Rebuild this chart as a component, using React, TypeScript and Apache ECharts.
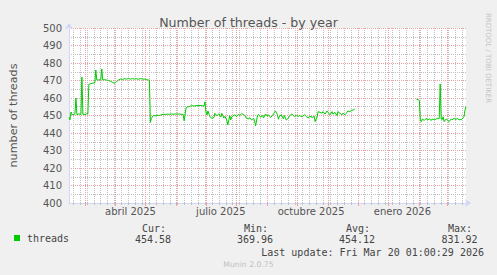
import React, { useEffect, useRef } from 'react';
import * as echarts from 'echarts';

const chartTitle = 'Number of threads - by year';
const yAxisName = 'number of threads';
const seriesName = 'threads';
const yMin = 400;
const yMax = 500;
const yMajorStep = 10;
const yMinorStep = 5;
const monthLabels = ['abril 2025', 'julio 2025', 'octubre 2025', 'enero 2026'];
const monthLabelDates = ['2025-04-16', '2025-07-16', '2025-10-15', '2026-01-15'];
const rangeStartDate = '2025-02-13T01:00:00Z';
const rangeDays = 400;
const statLabels = ['Cur:', 'Min:', 'Avg:', 'Max:'];
const statValues = ['454.58', '369.96', '454.12', '831.92'];
const lastUpdate = 'Last update: Fri Mar 20 01:00:29 2026';
const footer = 'Munin 2.0.75';
const watermark = 'RRDTOOL / TOBI OETIKER';

// days since range start
const days = [
  0, 1, 2, 3, 5, 6, 7, 8, 10, 12, 13, 14, 16, 18, 19, 20, 22, 24, 26, 27,
  28, 30, 32, 33, 34, 36, 38, 40, 42, 44, 46, 48, 50, 52, 54, 56, 58, 60, 62, 64,
  66, 68, 70, 72, 74, 76, 78, 80, 81, 82, 83, 85, 87, 89, 91, 93, 95, 97, 99, 101,
  103, 105, 107, 109, 111, 113, 115, 116, 118, 120, 122, 124, 126, 128, 130, 132, 134, 136, 137, 138,
  139, 140, 142, 144, 146, 147, 149, 151, 153, 154, 156, 157, 159, 160, 162, 163, 164, 166, 167, 169,
  171, 172, 174, 176, 177, 179, 181, 182, 184, 186, 187, 188, 190, 191, 193, 195, 196, 198, 200, 201,
  203, 205, 206, 208, 210, 211, 212, 214, 216, 217, 219, 221, 222, 224, 226, 227, 229, 231, 232, 234,
  235, 237, 239, 241, 242, 244, 245, 247, 248, 250, 251, 253, 255, 256, 258, 260, 261, 263, 265, 266,
  268, 270, 271, 273, 275, 276, 278, 280, 281, 283, 285, 286, 288, 320,
  350, 352, 353, 354, 355, 356, 358, 360, 361, 363, 365, 366, 368, 370, 371, 373, 374, 375, 376, 377,
  378, 380, 381, 383, 385, 386, 388, 390, 391, 393, 395, 396, 398, 399, 400,
];

const threads = [
  449, 447.5, 452, 450.5, 450.5, 451, 460, 450.5, 451, 450.5, 472, 450.7, 450.5, 451, 451, 467.8, 468.2, 468.5, 468.6, 476,
  470.3, 470.3, 470.5, 476.6, 470.3, 470.5, 470.2, 470, 469.5, 468.8, 468.5, 469.5, 470.3, 470.9, 470.4, 471.1, 470.8, 471.2, 470.8, 471.1,
  470.8, 471, 470.7, 471.1, 470.8, 470.8, 470.5, 470.3, 470.3, 446, 448.4, 450, 449.8, 450.2, 450, 450.4, 450.7, 450.6, 450.8, 450.7,
  450.9, 450.7, 450.9, 450.8, 450.9, 450.7, 450.6, 447, 454.5, 455, 455.3, 455.6, 455.4, 455.7, 455.6, 455.8, 455.6, 455.4, 457.8, 452,
  450.3, 452.6, 449.3, 448.4, 448.8, 451.3, 449.8, 451, 449.2, 451.2, 448.6, 449.5, 447.4, 444.6, 449.9, 447.5, 449.3, 450, 450.2, 449.5,
  450.7, 450, 451, 450.5, 450, 448.4, 448, 448.8, 447.4, 448.4, 447, 444, 450.2, 450.6, 449, 450.2, 448.6, 450.9, 449.5, 450.4,
  448.8, 450, 451, 452.6, 450.4, 447.9, 449.6, 450.4, 448.2, 450, 447.4, 448.5, 449.5, 450.8, 450.2, 449.5, 450, 449.5, 450, 449.5,
  449.2, 450.5, 449.5, 448.6, 449.2, 449.6, 448.6, 449.6, 446.5, 449.2, 452.2, 451.8, 451.3, 452.2, 450.8, 452.6, 451.8, 450.4, 452.2, 450.8,
  451.8, 449.9, 452.2, 451.3, 450.4, 451.3, 450.4, 451.8, 452.6, 452.2, 453.1, 453, 453.7, null,
  459.3, 459, 458.5, 447.4, 446.5, 448, 447.2, 448.4, 447.5, 448, 447.2, 448, 447.6, 448, 448.2, 448.2, 468, 448, 447.6, 449.3,
  446.5, 448, 447.6, 446.5, 448, 447.6, 448.4, 447.6, 448.4, 447.6, 447.6, 448, 449.3, 453.1, 455,
];

const DAY_MS = 86400000;
const startMs = Date.parse(rangeStartDate);
const dayOf = (iso: string) => (Date.parse(iso + 'T00:00:00Z') - startMs) / DAY_MS;

const monthStarts: number[] = [];
for (let m = 2; m <= 14; m++) {
  const d = Date.UTC(2025, m, 1);
  monthStarts.push((d - startMs) / DAY_MS);
}
const weekStarts: number[] = [];
for (let d = dayOf('2025-02-17'); d < rangeDays; d += 7) weekStarts.push(d);
const labelDays = monthLabelDates.map(dayOf);

const FONT = 'DejaVu Sans, sans-serif';
const MONO = 'DejaVu Sans Mono, monospace';
const TEXT = '#555555';
const MINOR = '#c0c0c0';
const MAJOR = '#f0a0a0';
const AXIS = '#cfd6f8';

export default function App() {
  const ref = useRef<HTMLDivElement>(null);
  useEffect(() => {
    if (!ref.current) return;
    const chart = echarts.init(ref.current, undefined, { renderer: 'svg' });
    const statLabelRights = [166, 268, 370, 472];
    const statValueRights = [171, 273, 375, 477.5];
    const graphics: any[] = [];
    statLabels.forEach((t, i) => {
      graphics.push({
        type: 'text', x: statLabelRights[i], y: 228,
        style: { text: t, font: `10px ${MONO}`, fill: '#444', textAlign: 'right', textVerticalAlign: 'middle' },
      });
      graphics.push({
        type: 'text', x: statValueRights[i], y: 239.5,
        style: { text: statValues[i], font: `10px ${MONO}`, fill: '#444', textAlign: 'right', textVerticalAlign: 'middle' },
      });
    });
    graphics.push({
      type: 'text', x: 484, y: 252,
      style: { text: lastUpdate, font: `10px ${MONO}`, fill: '#444', textAlign: 'right', textVerticalAlign: 'middle' },
    });
    graphics.push({
      type: 'text', x: 248.5, y: 264.5,
      style: { text: footer, font: `7.7px ${FONT}`, fill: '#c0c0c0', textAlign: 'center', textVerticalAlign: 'middle' },
    });
    graphics.push({
      type: 'text', x: 488, y: 58, rotation: -Math.PI / 2,
      style: { text: watermark, font: `7px ${FONT}`, fill: '#c4c4c4', textAlign: 'center', textVerticalAlign: 'middle' },
    });

    const data = days.map((d, i) => [d, threads[i]]);
    const hiddenX = {
      type: 'value', min: 0, max: rangeDays, position: 'bottom',
      axisLine: { show: false }, axisLabel: { show: false },
    };

    chart.setOption({
      animation: false,
      backgroundColor: '#f0f0f0',
      title: {
        text: chartTitle, left: 'center', top: 11,
        textStyle: { fontFamily: FONT, fontSize: 12.6, fontWeight: 'normal', color: TEXT },
      },
      legend: {
        data: [{ name: seriesName, icon: 'rect' }],
        left: 14, top: 233, padding: 0, itemWidth: 6, itemHeight: 6, itemGap: 0,
        textStyle: { fontFamily: MONO, fontSize: 10, color: '#444', padding: [0, 0, 0, 2] },
      },
      grid: { left: 66, right: 31, top: 28, bottom: 72, show: true, backgroundColor: '#ffffff', borderWidth: 0 },
      xAxis: [
        {
          ...hiddenX,
          axisTick: { show: true, customValues: weekStarts, length: 2, lineStyle: { color: MINOR } },
          splitLine: { show: true, lineStyle: { color: MINOR, type: [1, 1], width: 1 } },
        },
        {
          ...hiddenX,
          axisTick: { show: true, customValues: monthStarts, length: 3, inside: false, lineStyle: { color: MAJOR } },
          splitLine: { show: true, lineStyle: { color: MAJOR, type: [1, 1], width: 1 } },
        },
        {
          type: 'value', min: 0, max: rangeDays, position: 'bottom',
          axisLine: { show: true, onZero: false, lineStyle: { color: AXIS }, symbol: ['none', 'arrow'], symbolSize: [6, 6], symbolOffset: [0, 5] },
          axisTick: { show: false }, splitLine: { show: false },
          axisLabel: {
            customValues: labelDays,
            formatter: (v: number) => {
              let best = 0;
              labelDays.forEach((d, i) => { if (Math.abs(d - v) < Math.abs(labelDays[best] - v)) best = i; });
              return monthLabels[best];
            },
            fontFamily: FONT, fontSize: 10, color: TEXT, margin: 3,
          },
        },
      ],
      yAxis: [
        {
          type: 'value', min: yMin, max: yMax, interval: yMinorStep, position: 'left',
          axisLine: { show: false }, axisTick: { show: false }, axisLabel: { show: false },
          splitLine: { show: true, lineStyle: { color: MINOR, type: [1, 1], width: 1 } },
        },
        {
          type: 'value', min: yMin, max: yMax, interval: yMajorStep, position: 'left',
          name: yAxisName, nameLocation: 'middle', nameGap: 50, nameRotate: 90,
          nameTextStyle: { fontFamily: FONT, fontSize: 11.2, color: TEXT },
          axisLine: { show: true, lineStyle: { color: AXIS }, symbol: ['none', 'arrow'], symbolSize: [6, 6], symbolOffset: [0, 5] },
          axisTick: { show: false },
          axisLabel: { fontFamily: FONT, fontSize: 10, color: TEXT, margin: 7 },
          splitLine: { show: true, lineStyle: { color: MAJOR, type: [1, 1], width: 1 } },
        },
      ],
      series: [
        {
          name: seriesName, type: 'line', xAxisIndex: 2, yAxisIndex: 1, z: 5,
          data, showSymbol: false, symbol: 'none', connectNulls: false,
          color: '#00cc00',
          lineStyle: { color: '#00cc00', width: 1 },
        },
      ],
      graphic: graphics,
    });
    return () => chart.dispose();
  }, []);
  return <div ref={ref} style={{ position: 'fixed', left: 0, top: 0, width: 497, height: 275 }} />;
}
